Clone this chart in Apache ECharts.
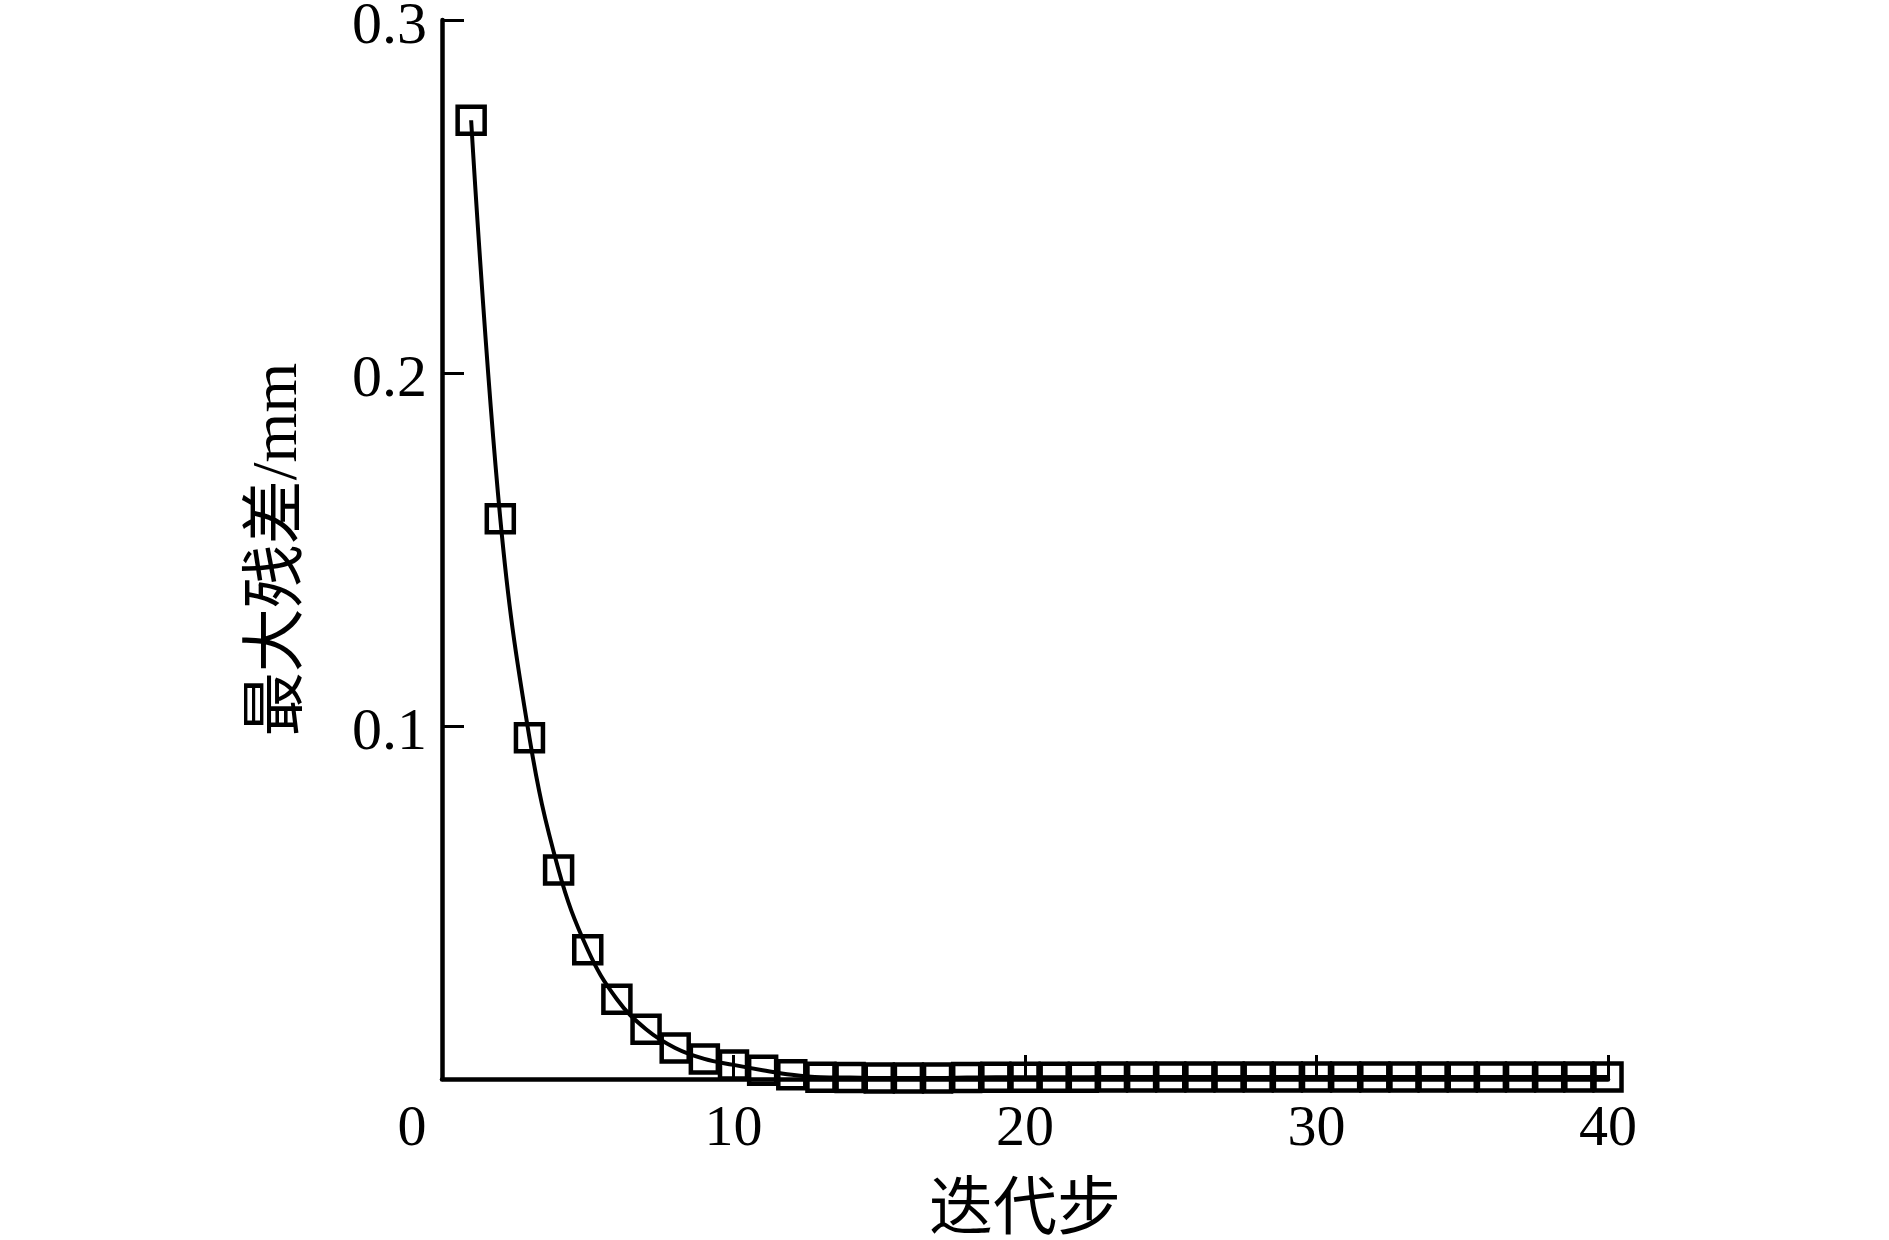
<!DOCTYPE html>
<html>
<head>
<meta charset="utf-8">
<script src="https://cdn.jsdelivr.net/npm/echarts@6/dist/echarts.min.js"></script>
<style>
html,body{margin:0;padding:0;background:#fff;}
#chart{width:1889px;height:1240px;}
</style>
</head>
<body>
<div id="chart"></div>
<script>
// Data
const iterations = [1,2,3,4,5,6,7,8,9,10,11,12,13,14,15,16,17,18,19,20,21,22,23,24,25,26,27,28,29,30,31,32,33,34,35,36,37,38,39,40];
const maxResidual = [0.2716,0.1587,0.0967,0.0592,0.0366,0.0226,0.0141,0.0088,0.0057,0.0040,0.0025,0.0012,0.0005,0.0004,0.0003,0.0003,0.0003,0.0004,0.0005,0.0005,0.0005,0.0005,0.0006,0.0006,0.0006,0.0006,0.0006,0.0006,0.0006,0.0006,0.0006,0.0006,0.0006,0.0006,0.0006,0.0006,0.0006,0.0006,0.0006,0.0006];
const xTicks = [0,10,20,30,40];
const yTicks = [0,0.1,0.2,0.3];
const xName = '迭代步';
const yName = '最大残差/mm';

const FONT = "'Liberation Serif', 'Noto Sans CJK SC', serif";
const chart = echarts.init(document.getElementById('chart'), null, {renderer:'canvas'});
chart.setOption({
  backgroundColor:'#fff',
  animation:false,
  grid:{left:442,right:281,top:20,bottom:161,containLabel:false,outerBoundsMode:'none'},
  xAxis:{
    type:'value',
    min:xTicks[0], max:xTicks[xTicks.length-1], interval:10,
    name:xName, nameLocation:'middle', nameGap:101,
    nameTextStyle:{fontFamily:FONT,fontSize:64,color:'#000'},
    axisLine:{show:true,onZero:false,lineStyle:{color:'#000',width:4.5}},
    axisTick:{show:true,inside:true,length:24,lineStyle:{color:'#000',width:3}},
    axisLabel:{
      margin:22,color:'#000',fontFamily:FONT,fontSize:58,
      formatter:function(v){return v===0?'{z|0}':String(v);},
      rich:{z:{fontFamily:FONT,fontSize:58,color:'#000',padding:[0,60,0,0]}}
    },
    splitLine:{show:false}
  },
  yAxis:{
    type:'value',
    min:yTicks[0], max:yTicks[yTicks.length-1], interval:0.1,
    name:yName, nameLocation:'middle', nameGap:131,
    nameTextStyle:{fontFamily:FONT,fontSize:64,color:'#000'},
    axisLine:{show:true,onZero:false,lineStyle:{color:'#000',width:4.5}},
    axisTick:{show:true,inside:true,length:22,lineStyle:{color:'#000',width:3}},
    axisLabel:{margin:15,color:'#000',fontFamily:FONT,fontSize:60,showMinLabel:false,
      formatter:function(v){return '{a|' + v.toFixed(1) + '}';},
      rich:{a:{fontFamily:FONT,fontSize:60,color:'#000',padding:[14,0,0,0]}}},
    splitLine:{show:false}
  },
  series:[{
    type:'line',
    data:iterations.map((x,i)=>[x,maxResidual[i]]),
    smooth:0.4,
    symbol:'rect',
    symbolSize:27,
    showAllSymbol:true,
    lineStyle:{color:'#000',width:4},
    itemStyle:{color:'rgba(0,0,0,0)',borderColor:'#000',borderWidth:4.5},
    z:3
  }]
});
</script>
</body>
</html>
